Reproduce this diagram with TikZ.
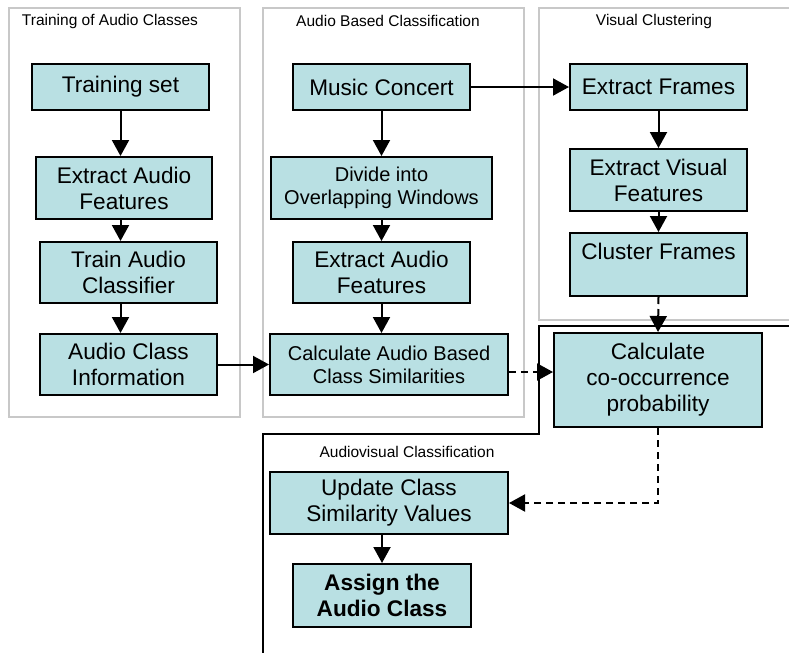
\documentclass[tikz,border=0pt]{standalone}
\usepackage{fontspec}
\setmainfont{Liberation Sans}
\usetikzlibrary{arrows.meta}
\definecolor{boxfill}{RGB}{185,224,227}
\definecolor{framegray}{RGB}{200,200,200}
\begin{document}
\begin{tikzpicture}[x=1pt,y=-1pt,
  stepbox/.style={draw=black,line width=2pt,fill=boxfill,align=center,inner sep=0pt,
    font=\fontsize{22.6}{26}\selectfont},
  smallbox/.style={stepbox,font=\fontsize{20}{23}\selectfont},
  title/.style={inner sep=0pt,font=\fontsize{15.5}{18}\selectfont},
  frame/.style={draw=framegray,line width=2pt},
  region/.style={draw=black,line width=2pt},
  arr/.style={line width=2pt,-{Triangle[width=17pt,length=16pt]}},
  darr/.style={arr,dash pattern=on 7pt off 5pt}]
\useasboundingbox (0,0) rectangle (789,653);
\fill[white] (0,0) rectangle (789,653);

% group frames
\draw[frame] (9,8) rectangle (240,417);
\draw[frame] (263,8) rectangle (524,417);
\draw[frame] (789,8) -- (539,8) -- (539,320) -- (789,320);
\draw[region] (789,326) -- (539,326) -- (539,434) -- (263,434) -- (263,653);

% group titles
\node[title] (t1) at (110,21) {Training of Audio Classes};
\node[title] (t2) at (388,21) {Audio Based Classification};
\node[title] (t3) at (654,21) {Visual Clustering};
\node[title] (t4) at (407,452) {Audiovisual Classification};

% training of audio classes
\node[stepbox,minimum width=177pt,minimum height=46pt] (ts) at (120.5,87) {Training set};
\node[stepbox,minimum width=176pt,minimum height=62pt] (eaf1) at (124,188) {Extract Audio\\Features};
\node[stepbox,minimum width=177pt,minimum height=61pt] (tac) at (128.5,272.5) {Train Audio\\Classifier};
\node[stepbox,minimum width=177pt,minimum height=61pt] (aci) at (128.5,364.5) {Audio Class\\Information};

% audio based classification
\node[stepbox,minimum width=177pt,minimum height=46pt] (mc) at (381.5,87) {Music Concert};
\node[smallbox,minimum width=221pt,minimum height=62pt] (div) at (381.5,188) {Divide into\\Overlapping Windows};
\node[stepbox,minimum width=177pt,minimum height=61pt] (eaf2) at (381.5,272.5) {Extract Audio\\Features};
\node[smallbox,minimum width=238pt,minimum height=61pt] (cabs) at (389,364.5) {Calculate Audio Based\\Class Similarities};

% visual clustering
\node[stepbox,minimum width=177pt,minimum height=46pt] (ef) at (658.5,87) {Extract Frames};
\node[stepbox,minimum width=177pt,minimum height=62pt] (evf) at (658.5,180) {Extract Visual\\Features};
\node[stepbox,minimum width=177pt,minimum height=63pt] (cf) at (658.5,264.5) {Cluster Frames\\\mbox{}};

% audiovisual classification
\node[stepbox,minimum width=208pt,minimum height=94pt] (cop) at (658,380) {Calculate\\co-occurrence\\probability};
\node[stepbox,minimum width=238pt,minimum height=62pt] (ucs) at (389,503) {Update Class\\Similarity Values};
\node[stepbox,minimum width=178pt,minimum height=63pt,
  font=\fontsize{22.6}{26}\selectfont\bfseries] (aac) at (382,595.5) {Assign the\\Audio Class};

% connectors
\draw[arr] (ts.south) -- (ts.south |- eaf1.north);
\draw[arr] (eaf1.south -| ts.south) -- (tac.north -| ts.south);
\draw[arr] (tac.south -| ts.south) -- (aci.north -| ts.south);
\draw[arr] (aci.east) -- (cabs.west);

\draw[arr] (mc.south) -- (div.north -| mc.south);
\draw[arr] (div.south -| mc.south) -- (eaf2.north -| mc.south);
\draw[arr] (eaf2.south) -- (cabs.north -| eaf2.south);
\draw[arr] (mc.east) -- (ef.west);

\draw[arr] (ef.south) -- (evf.north);
\draw[arr] (evf.south) -- (cf.north);

\coordinate (dj) at (0,372);
\draw[darr] (cf.south) -- (cop.north);
\draw[darr] (cabs.east |- dj) -- (cop.west |- dj);
\draw[darr] (cop.south) |- (ucs.east);
\draw[arr] (ucs.south -| aac.north) -- (aac.north);
\end{tikzpicture}
\end{document}
